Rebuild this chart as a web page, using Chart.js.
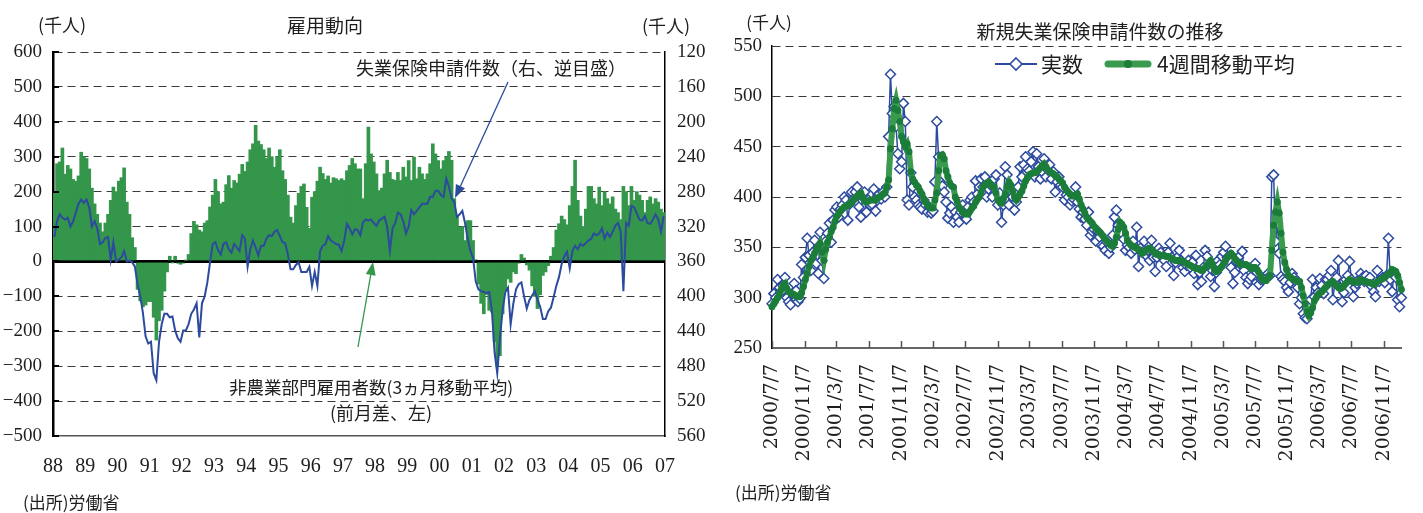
<!DOCTYPE html>
<html>
<head>
<meta charset="utf-8">
<script src="https://cdn.jsdelivr.net/npm/chart.js@4.4.1/dist/chart.umd.min.js"></script>
<style>
  html, body { margin: 0; padding: 0; background: #fff; }
  #wrap { position: relative; width: 1423px; height: 513px; overflow: hidden; background: #fff; }
  #c1 { position: absolute; left: 0; top: 0; }
  #c2 { position: absolute; left: 712px; top: 0; }
</style>
</head>
<body>
<div id="wrap">
  <canvas id="c1" width="712" height="513"></canvas>
  <canvas id="c2" width="711" height="513"></canvas>
</div>
<script>
// ---- Left panel: monthly data, Jan 1988 - Dec 2006 ----
// Nonfarm payrolls, 3-month moving average of monthly change (thousands)
const payrolls3mma = [
  195, 280, 285, 325, 250, 275, 265, 235, 230, 245, 313, 300,
  295, 265, 210, 165, 135, 110, 85, 110, 135, 175, 213, 200,
  230, 240, 268, 170, 135, 68, 40, -80, -113, -130, -125, -115,
  -115, -160, -225, -170, -140, -85, -30, 15, -3, 15, -5, -8,
  -5, 3, 20, 80, 115, 105, 90, 85, 110, 117, 156, 190,
  235, 200, 165, 170, 220, 246, 210, 232, 225, 250, 278, 258,
  285, 320, 337, 390, 345, 335, 320, 295, 325, 300, 270, 300,
  320, 260, 235, 190, 127, 110, 160, 195, 215, 222, 155, 95,
  184, 200, 230, 270, 252, 235, 245, 225, 240, 237, 232, 237,
  232, 260, 275, 295, 280, 265, 265, 180, 280, 385, 308, 285,
  251, 203, 210, 251, 290, 255, 235, 232, 255, 232, 270, 242,
  289, 232, 299, 237, 270, 251, 235, 251, 280, 337, 308, 289,
  265, 289, 300, 315, 290, 180, 130, 98, 100, 60, 117, 117,
  60, 5, -65, -120, -150, -95, -140, -145, -230, -300, -270, -150,
  -85, -50, -60, -30, -35, -5, 20, 10, -10, -25, -70, -100,
  -135, -95, -40, -30, -12, 15, 40, 90, 108, 130, 120, 105,
  160, 215, 290, 175, 130, 100, 150, 215, 215, 180, 165, 213,
  160, 200, 180, 165, 185, 150, 140, 120, 215, 200, 160, 215,
  175, 200, 190, 175, 140, 175, 185, 165, 180, 170, 150, 140
];
// Initial jobless claims (thousands), plotted on the reversed right axis
const claimsMonthly = [
  332, 314, 306, 310, 312, 310, 320, 314, 304, 294, 289, 293,
  289, 298, 320, 314, 322, 340, 338, 333, 332, 358, 338, 360,
  358, 355, 348, 360, 359, 361, 366, 386, 400, 419, 446, 454,
  452, 488, 496, 452, 432, 420, 420, 424, 423, 439, 448, 452,
  439, 439, 432, 420, 415, 408, 447, 408, 400, 384, 361, 340,
  338, 347, 352, 340, 338, 346, 350, 340, 344, 348, 330, 334,
  366, 346, 336, 344, 353, 342, 342, 334, 330, 331, 326, 324,
  331, 338, 339, 352, 369, 369, 364, 361, 372, 372, 372, 366,
  388, 372, 388, 348, 342, 340, 331, 336, 338, 340, 341, 348,
  336, 317, 322, 329, 323, 324, 330, 315, 312, 313, 312, 316,
  319, 313, 311, 309, 320, 348, 322, 316, 304, 306, 314, 328,
  320, 301, 306, 302, 298, 294, 294, 294, 286, 286, 279, 279,
  284, 286, 265, 274, 288, 292, 309, 306, 302, 316, 334, 348,
  356, 383, 392, 394, 395, 396, 395, 416, 464, 488, 448, 416,
  395, 390, 432, 408, 392, 386, 384, 400, 414, 404, 399, 394,
  404, 412, 426, 426, 417, 413, 401, 388, 378, 363, 354, 349,
  368, 348, 342, 346, 340, 342, 339, 336, 334, 328, 330, 328,
  322, 334, 327, 332, 326, 319, 316, 326, 394, 316, 319, 296,
  298, 305, 312, 313, 308, 316, 317, 312, 306, 312, 326, 308
];
const yearTickLabels = ['88','89','90','91','92','93','94','95','96','97',
                        '98','99','00','01','02','03','04','05','06','07'];
const leftAxisTicks = [-500, -400, -300, -200, -100, 0, 100, 200, 300, 400, 500, 600];
const rightAxisTicks = [120, 160, 200, 240, 280, 320, 360, 400, 440, 480, 520, 560];

// ---- Right panel: weekly initial claims from 2000/7/7 (thousands) ----
const weeklyClaims = [
  294, 304, 300, 318, 310, 306, 312, 320, 300, 296,
  293, 304, 314, 307, 296, 299, 333, 320, 340, 359,
  342, 327, 345, 357, 334, 324, 365, 337, 319, 356,
  364, 374, 355, 377, 387, 390, 380, 388, 392, 400,
  397, 377, 393, 405, 398, 405, 410, 390, 380, 400,
  405, 385, 397, 392, 393, 408, 386, 397, 403, 398,
  405, 400, 410, 460, 522, 483, 490, 470, 443, 428,
  435, 493, 475, 397, 392, 424, 410, 400, 397, 392,
  390, 388, 397, 392, 385, 390, 384, 386, 415, 475,
  440, 415, 411, 405, 395, 379, 384, 390, 375, 385,
  380, 375, 385, 392, 384, 378, 390, 397, 400, 395,
  416, 403, 410, 418, 410, 420, 400, 408, 412, 400,
  418, 422, 392, 404, 375, 392, 430, 422, 392, 410,
  400, 387, 395, 410, 430, 420, 432, 440, 428, 426,
  435, 445, 420, 443, 430, 418, 425, 438, 420, 427,
  432, 418, 425, 405, 415, 420, 412, 410, 397, 402,
  400, 392, 396, 398, 410, 395, 388, 380, 385, 378,
  372, 385, 362, 366, 368, 356, 366, 360, 352, 351,
  347, 355, 344, 350, 362, 380, 387, 372, 370, 364,
  358, 347, 352, 350, 344, 356, 348, 370, 331, 349,
  345, 356, 342, 347, 337, 357, 340, 326, 340, 349,
  345, 340, 337, 331, 345, 354, 340, 322, 335, 340,
  347, 337, 330, 326, 332, 337, 330, 335, 324, 342,
  313, 325, 316, 330, 347, 341, 332, 321, 327, 311,
  325, 337, 333, 341, 345, 351, 340, 337, 330, 314,
  325, 336, 340, 333, 346, 327, 320, 314, 318, 321,
  328, 334, 325, 313, 318, 318, 320, 321, 324, 322,
  420, 422, 356, 374, 344, 321, 318, 316, 310, 306,
  315, 324, 320, 316, 310, 294, 300, 284, 280, 279,
  291, 298, 318, 301, 310, 305, 319, 312, 304, 318,
  318, 322, 327, 298, 315, 320, 337, 310, 296, 305,
  318, 322, 336, 318, 301, 310, 314, 318, 324, 320,
  316, 322, 318, 320, 311, 306, 301, 327, 316, 318,
  320, 315, 322, 359, 318, 306, 323, 320, 298, 291, 300
];
const weeklyClaims4wk = [
  291, 294, 297, 300, 304, 308, 312, 314, 309, 306,
  305, 304, 303, 302, 301, 301, 305, 311, 318, 324,
  331, 337, 340, 344, 348, 351, 354, 345, 337, 348,
  355, 360, 366, 370, 376, 381, 383, 386, 388, 390,
  391, 392, 393, 395, 397, 399, 401, 403, 404, 400,
  396, 395, 396, 397, 397, 397, 397, 399, 400, 401,
  403, 404, 410, 417, 448, 468, 488, 496, 486, 475,
  460, 455, 450, 453, 445, 425, 418, 415, 412, 410,
  406, 403, 398, 395, 392, 390, 389, 389, 397, 404,
  426, 441, 442, 438, 426, 420, 414, 411, 410, 400,
  396, 390, 388, 385, 383, 383, 383, 386, 389, 391,
  395, 398, 400, 405, 410, 412, 414, 415, 413, 411,
  410, 404, 397, 395, 394, 398, 403, 410, 415, 412,
  406, 400, 397, 400, 403, 406, 411, 416, 419, 422,
  423, 424, 424, 425, 427, 429, 431, 433, 430, 427,
  425, 424, 423, 421, 420, 418, 416, 414, 410, 407,
  405, 403, 401, 401, 402, 403, 398, 392, 388, 384,
  380, 378, 376, 374, 371, 369, 367, 365, 363, 361,
  358, 356, 354, 352, 351, 354, 360, 368, 375, 373,
  370, 364, 357, 354, 352, 351, 350, 349, 348, 346,
  344, 345, 347, 348, 349, 348, 346, 344, 343, 343,
  342, 342, 342, 341, 341, 340, 339, 338, 337, 337,
  337, 337, 336, 335, 334, 333, 332, 331, 330, 329,
  329, 328, 327, 328, 330, 332, 335, 337, 333, 328,
  326, 327, 329, 331, 334, 337, 340, 342, 344, 342,
  339, 337, 335, 333, 333, 333, 333, 332, 331, 329,
  330, 330, 328, 325, 321, 318, 317, 317, 320, 322,
  347, 372, 385, 395, 384, 364, 345, 335, 328, 322,
  320, 319, 318, 317, 316, 316, 310, 302, 294, 286,
  282, 285, 290, 297, 300, 303, 305, 306, 308, 310,
  312, 314, 315, 316, 314, 312, 310, 309, 310, 312,
  314, 316, 318, 317, 316, 316, 315, 316, 318, 317,
  316, 316, 315, 315, 314, 313, 314, 316, 317, 318,
  319, 320, 322, 323, 325, 328, 327, 326, 322, 315, 308
];
const firstWeek = '2000/7/7';
const dateTickLabels = ['2000/7/7','2000/11/7','2001/3/7','2001/7/7','2001/11/7',
  '2002/3/7','2002/7/7','2002/11/7','2003/3/7','2003/7/7','2003/11/7','2004/3/7',
  '2004/7/7','2004/11/7','2005/3/7','2005/7/7','2005/11/7','2006/3/7','2006/7/7','2006/11/7'];
const claimsAxisTicks = [250, 300, 350, 400, 450, 500, 550];

// ---- helpers ----
const SERIF = '"Liberation Serif", "Noto Sans CJK JP", serif';
const SERIF_WIDE = '"DejaVu Serif", "Liberation Serif", serif';
const JP = '"Noto Sans CJK JP", "Noto Sans CJK SC", sans-serif';
const TEXT = '#1e1e1e';
const BLUE = '#2c4a9e';
const GREEN = '#34964a';

function toUTC(s) { const [y, m, d] = s.split('/').map(Number); return Date.UTC(y, m - 1, d); }
function daysFromStart(s) { return Math.round((toUTC(s) - toUTC(firstWeek)) / 86400000); }
function minusSign(v) { return v < 0 ? '\u2212' + Math.abs(v) : String(v); }

function text(ctx, str, x, y, size, align) {
  ctx.save();
  ctx.fillStyle = TEXT;
  ctx.font = size + 'px ' + JP;
  ctx.textAlign = align || 'left';
  ctx.textBaseline = 'middle';
  ctx.fillText(str, x, y);
  ctx.restore();
}
function arrow(ctx, x1, y1, x2, y2, color) {
  const a = Math.atan2(y2 - y1, x2 - x1), L = 13, W = 5;
  const bx = x2 - L * Math.cos(a), by = y2 - L * Math.sin(a);
  ctx.save();
  ctx.strokeStyle = color; ctx.fillStyle = color; ctx.lineWidth = 1.3;
  ctx.beginPath(); ctx.moveTo(x1, y1); ctx.lineTo(bx, by); ctx.stroke();
  ctx.beginPath();
  ctx.moveTo(x2, y2);
  ctx.lineTo(bx + W * Math.sin(a), by - W * Math.cos(a));
  ctx.lineTo(bx - W * Math.sin(a), by + W * Math.cos(a));
  ctx.closePath(); ctx.fill();
  ctx.restore();
}

// Titles, notes, arrows and inner tick marks of the employment panel
const leftDecor = {
  id: 'leftDecor',
  afterDraw(chart) {
    const ctx = chart.ctx, ca = chart.chartArea, ys = chart.scales.y;
    ctx.save();
    ctx.strokeStyle = '#000'; ctx.lineWidth = 2;
    leftAxisTicks.forEach(v => {
      const py = Math.round(ys.getPixelForValue(v));
      ctx.beginPath(); ctx.moveTo(ca.left, py); ctx.lineTo(ca.left + 6, py); ctx.stroke();
    });
    ctx.restore();
    text(ctx, '(千人)', 62, 25, 18, 'center');
    text(ctx, '雇用動向', 325, 26, 19, 'center');
    text(ctx, '(千人)', 666, 26, 18, 'center');
    text(ctx, '失業保険申請件数（右、逆目盛）', 356, 68, 18);
    text(ctx, '非農業部門雇用者数(3ヵ月移動平均)', 229, 387, 17.5);
    text(ctx, '(前月差、左)', 330, 413, 18);
    text(ctx, '(出所)労働省', 23, 503, 17);
    arrow(ctx, 508, 82, 455, 198, BLUE);
    arrow(ctx, 358, 347, 373, 262, GREEN);
  }
};

// Titles, legend, footnote and inner tick marks of the weekly claims panel
const rightDecor = {
  id: 'rightDecor',
  afterDraw(chart) {
    const ctx = chart.ctx, ca = chart.chartArea, xs = chart.scales.x;
    ctx.save();
    ctx.strokeStyle = '#555'; ctx.lineWidth = 1.5;
    xs.ticks.forEach(t => {
      const px = Math.round(xs.getPixelForValue(t.value)) + 0.5;
      ctx.beginPath(); ctx.moveTo(px, ca.bottom); ctx.lineTo(px, ca.bottom - 7); ctx.stroke();
    });
    ctx.restore();
    text(ctx, '(千人)', 57, 23, 17, 'center');
    text(ctx, '新規失業保険申請件数の推移', 388, 32, 19, 'center');
    // legend: actual
    const ly = 64;
    ctx.save();
    ctx.strokeStyle = BLUE; ctx.lineWidth = 2;
    ctx.beginPath(); ctx.moveTo(283, ly); ctx.lineTo(325, ly); ctx.stroke();
    ctx.fillStyle = '#fff'; ctx.lineWidth = 1.6;
    ctx.beginPath();
    ctx.moveTo(304, ly - 6); ctx.lineTo(310, ly); ctx.lineTo(304, ly + 6); ctx.lineTo(298, ly); ctx.closePath();
    ctx.fill(); ctx.stroke();
    // legend: 4-week average
    ctx.strokeStyle = '#3a9b4e'; ctx.lineWidth = 7; ctx.lineCap = 'round';
    ctx.beginPath(); ctx.moveTo(396, ly); ctx.lineTo(436, ly); ctx.stroke();
    ctx.fillStyle = '#1c7d3b';
    ctx.beginPath(); ctx.arc(416, ly, 4, 0, Math.PI * 2); ctx.fill();
    ctx.restore();
    text(ctx, '実数', 329, ly, 21);
    text(ctx, '4週間移動平均', 445, ly, 21);
    text(ctx, '(出所)労働省', 23, 493, 17);
  }
};

new Chart(document.getElementById('c1'), {
  type: 'bar',
  data: {
    datasets: [
      {
        type: 'line',
        label: '失業保険申請件数',
        data: claimsMonthly.map((v, i) => ({ x: i + 0.5, y: v })),
        yAxisID: 'y1',
        borderColor: BLUE,
        borderWidth: 2,
        pointRadius: 0,
        tension: 0,
        order: 0
      },
      {
        type: 'bar',
        label: '非農業部門雇用者数',
        data: payrolls3mma.map((v, i) => ({ x: i + 0.5, y: v })),
        yAxisID: 'y',
        backgroundColor: GREEN,
        borderWidth: 0,
        barThickness: 3,
        order: 1
      }
    ]
  },
  options: {
    responsive: false,
    animation: false,
    events: [],
    layout: { padding: { top: 52, left: 0, right: 0, bottom: 0 } },
    plugins: { legend: { display: false }, tooltip: { enabled: false } },
    scales: {
      x: {
        type: 'linear', min: 0, max: payrolls3mma.length, offset: false,
        afterBuildTicks: s => { s.ticks = yearTickLabels.map((_, i) => ({ value: i * 12 })); },
        afterFit: s => { s.height = 77; },
        grid: { display: false, drawTicks: false },
        border: { display: true, color: '#555', width: 1.5 },
        ticks: {
          autoSkip: false, minRotation: 0, maxRotation: 0, padding: 19, color: TEXT,
          font: { family: SERIF, size: 20 },
          callback: (v, i) => yearTickLabels[i]
        }
      },
      y: {
        type: 'linear', position: 'left', min: -500, max: 600,
        afterBuildTicks: s => { s.ticks = leftAxisTicks.map(v => ({ value: v })); },
        afterFit: s => { s.width = 53; },
        grid: {
          drawTicks: false,
          color: c => c.tick.value === 0 ? '#000' : (c.tick.value === -500 ? 'rgba(0,0,0,0)' : '#3a3a3a'),
          lineWidth: c => c.tick.value === 0 ? 3 : 1
        },
        border: { display: true, color: '#000', width: 2.5, dash: c => (c.tick && c.tick.value === 0) ? [] : [8, 5] },
        ticks: { padding: 11, color: TEXT, font: { family: SERIF, size: 19 }, callback: v => minusSign(v) }
      },
      y1: {
        type: 'linear', position: 'right', min: 120, max: 560, reverse: true,
        afterBuildTicks: s => { s.ticks = rightAxisTicks.map(v => ({ value: v })); },
        afterFit: s => { s.width = 47; },
        grid: { display: false, drawOnChartArea: false, drawTicks: false },
        border: { display: true, color: '#000', width: 1.5 },
        ticks: { padding: 12, color: TEXT, font: { family: SERIF, size: 19 } }
      }
    }
  },
  plugins: [leftDecor]
});

new Chart(document.getElementById('c2'), {
  type: 'line',
  data: {
    datasets: [
      {
        label: '実数',
        data: weeklyClaims.map((v, i) => ({ x: i * 7, y: v })),
        borderColor: BLUE,
        borderWidth: 1.5,
        pointStyle: 'rectRot',
        pointRadius: 5,
        pointBorderWidth: 1.5,
        pointBackgroundColor: '#fff',
        pointBorderColor: BLUE,
        tension: 0,
        clip: false,
        order: 1
      },
      {
        label: '4週間移動平均',
        data: weeklyClaims4wk.map((v, i) => ({ x: i * 7, y: v })),
        borderColor: '#3a9b4e',
        borderWidth: 6,
        pointRadius: 3.5,
        pointBackgroundColor: '#1c7d3b',
        pointBorderWidth: 0,
        tension: 0,
        clip: false,
        order: 0
      }
    ]
  },
  options: {
    responsive: false,
    animation: false,
    events: [],
    layout: { padding: { top: 46, left: 0, right: 10, bottom: 0 } },
    plugins: { legend: { display: false }, tooltip: { enabled: false } },
    scales: {
      x: {
        type: 'linear', min: 0, max: (weeklyClaims.length - 1) * 7,
        afterBuildTicks: s => { s.ticks = dateTickLabels.map(l => ({ value: daysFromStart(l) })); },
        afterFit: s => { s.height = 165; },
        grid: { display: false, drawTicks: false },
        border: { display: true, color: '#666', width: 2 },
        ticks: {
          autoSkip: false, minRotation: 90, maxRotation: 90, padding: 16, color: TEXT,
          font: { family: SERIF_WIDE, size: 19 },
          callback: (v, i) => dateTickLabels[i]
        }
      },
      y: {
        type: 'linear', min: 250, max: 550,
        afterBuildTicks: s => { s.ticks = claimsAxisTicks.map(v => ({ value: v })); },
        afterFit: s => { s.width = 60; },
        grid: {
          drawTicks: false,
          color: c => c.tick.value === 250 ? 'rgba(0,0,0,0)' : '#3a3a3a',
          lineWidth: 1
        },
        border: { display: true, color: '#000', width: 1.5, dash: [8, 5] },
        ticks: { padding: 10, color: TEXT, font: { family: SERIF, size: 19 } }
      }
    }
  },
  plugins: [rightDecor]
});
</script>
</body>
</html>
